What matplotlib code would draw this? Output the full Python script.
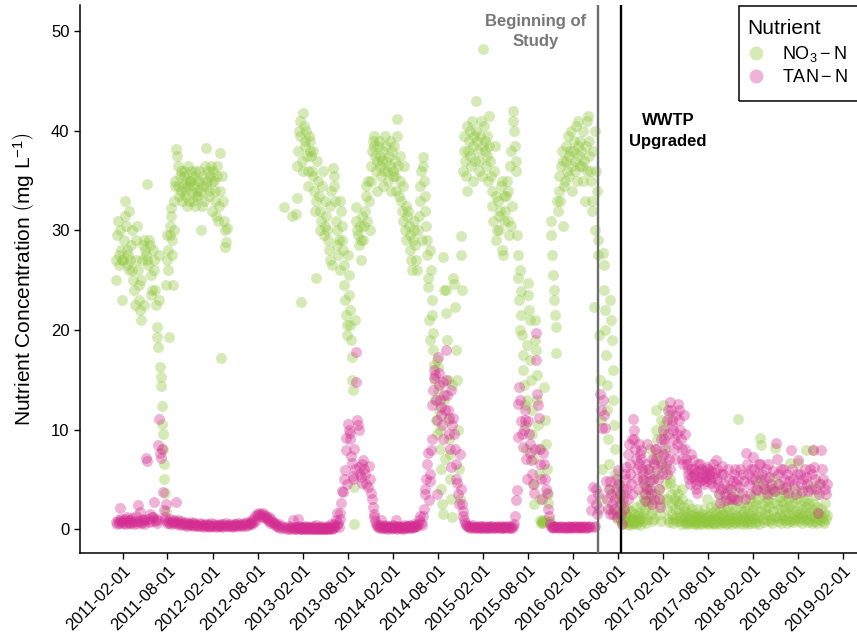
import calendar

import matplotlib
matplotlib.use("Agg")
import matplotlib.pyplot as plt
from matplotlib.lines import Line2D
from matplotlib.patches import Rectangle
import pandas as pd

plt.rcParams["font.family"] = ["Liberation Sans", "DejaVu Sans"]
plt.rcParams["mathtext.fontset"] = "custom"
plt.rcParams["mathtext.rm"] = "Liberation Sans"
plt.rcParams["mathtext.it"] = "Liberation Sans:italic"

# ---------------------------------------------------------------------------
# Monthly samples (mg N / L); each inner list holds one calendar month,
# samples are spread evenly through that month.
# ---------------------------------------------------------------------------
no3_2011 = [
    [25.0, 27.0, 29.5, 31.0, 27.5, 26.5, 30.0, 28.0, 23.0, 27.0],
    [27.0, 29.0, 31.5, 33.0, 30.5, 28.0, 26.5, 27.5, 32.0, 26.0],
    [27.0, 28.5, 30.0, 26.0, 25.0, 24.0, 22.5, 27.0, 29.0, 30.5],
    [26.0, 24.5, 23.0, 22.0, 21.0, 25.0, 27.0, 28.5, 29.0, 22.5],
    [28.0, 27.5, 34.7, 27.0, 26.5, 29.0, 28.5, 25.5, 23.5, 24.0],
    [28.0, 27.0, 26.0, 24.0, 22.5, 20.3, 19.3, 18.3, 23.0, 27.5],
    [16.3, 15.3, 14.4, 12.4, 10.6, 9.5, 8.0, 6.5, 5.0, 3.6, 1.8, 24.5, 27.0, 29.5],
    [26.0, 28.0, 19.3, 29.5, 30.5, 31.5, 32.3, 29.0, 27.5, 24.5, 30.0, 33.0, 34.5],
    [35.0, 38.2, 37.5, 36.5, 34.5, 33.5, 35.5, 34.0, 36.0, 33.0],
    [34.5, 35.5, 36.0, 33.5, 34.0, 35.0, 32.5, 34.5, 36.5, 33.0, 35.0],
    [35.0, 36.0, 34.0, 33.0, 35.5, 34.5, 36.0, 32.5, 33.5, 35.0, 34.0],
    [33.5, 35.0, 36.0, 34.0, 30.0, 32.5, 35.5, 34.5, 33.0, 36.5],
]
no3_2012 = [
    [34.5, 38.3, 35.0, 36.0, 33.5, 34.0, 35.5, 36.5, 32.0, 35.0],
    [36.0, 35.0, 34.0, 33.0, 31.5, 35.5, 36.5, 31.0, 32.5, 34.0],
    [37.8, 17.2, 35.5, 33.0, 31.0, 30.0, 28.3, 28.8, 30.2],
    [], [], [], [], [], [], [],
    [32.4],
    [31.5],
]
no3_2013 = [
    [31.7, 33.3, 36.5, 38.0, 40.0, 41.0, 39.5, 22.8, 37.0, 36.0],
    [41.8, 40.5, 39.0, 38.5, 40.0, 37.5, 36.0, 34.5, 39.5, 38.0],
    [39.0, 37.5, 36.0, 35.5, 38.0, 34.0, 32.0, 33.0, 25.2, 37.0],
    [35.0, 33.5, 32.0, 30.0, 31.0, 34.5, 36.0, 29.5, 30.5],
    [33.0, 31.5, 30.0, 29.0, 28.0, 27.0, 32.5, 34.0, 26.5],
    [36.3, 35.5, 34.5, 33.0, 31.0, 30.0, 28.5, 27.5, 29.0, 26.0],
    [33.0, 32.0, 30.5, 29.0, 28.0, 26.5, 24.5, 23.0, 21.5, 20.5, 19.5],
    [27.5, 25.5, 23.5, 22.0, 20.5, 19.0, 17.3, 15.0, 14.0, 4.2, 0.5, 21.0],
    [32.4, 31.0, 30.0, 29.5, 28.5, 30.5, 27.0, 29.0, 31.5],
    [29.0, 30.5, 32.0, 33.5, 34.5, 31.0, 35.0, 33.0, 30.0],
    [35.0, 36.5, 38.0, 39.0, 39.5, 38.5, 37.5, 36.0, 34.0, 37.0],
    [38.5, 39.0, 37.5, 36.5, 35.5, 37.0, 38.0, 34.5, 36.0, 39.5],
]
no3_2014 = [
    [37.0, 38.5, 36.0, 35.0, 37.5, 39.0, 36.5, 34.0, 38.0, 35.5],
    [36.0, 38.5, 37.0, 35.5, 34.0, 39.5, 41.2, 36.5, 33.5, 37.5],
    [35.0, 33.0, 32.0, 31.0, 34.5, 36.5, 30.0, 29.0, 32.5, 31.5],
    [32.0, 30.5, 29.5, 28.0, 27.0, 26.0, 29.0, 30.0, 31.0],
    [28.5, 27.0, 26.0, 30.0, 31.5, 33.0, 34.5, 36.0, 29.0],
    [37.4, 36.5, 35.0, 33.5, 32.0, 30.5, 29.0, 27.5, 25.2, 24.3, 21.0, 19.0],
    [28.0, 26.0, 23.0, 21.5, 19.7, 18.0, 16.5, 15.0, 13.0, 11.0, 9.5, 17.0],
    [16.3, 14.0, 12.0, 10.0, 8.0, 6.0, 4.0, 2.5, 1.5, 27.3, 24.0, 13.0, 7.0],
    [21.7, 24.0, 19.0, 15.0, 11.0, 9.0, 7.5, 5.0, 3.0, 1.2, 14.5],
    [25.2, 24.6, 22.3, 18.0, 15.0, 10.0, 6.0, 3.0],
    [29.4, 27.5, 24.0, 36.0, 38.0, 39.5, 37.0, 35.5, 40.5, 34.0],
    [38.0, 39.0, 40.0, 37.5, 36.5, 41.0, 38.5, 35.0, 39.5, 37.0],
]
no3_2015 = [
    [43.0, 40.0, 39.0, 38.0, 37.0, 36.0, 39.5, 41.0, 35.5, 38.5],
    [48.2, 40.5, 39.0, 38.0, 36.5, 37.5, 39.5, 35.0, 41.5, 38.5],
    [37.0, 35.5, 34.0, 32.5, 31.0, 36.0, 38.5, 33.5, 29.0, 30.0],
    [33.0, 31.5, 30.0, 32.0, 34.5, 35.0, 28.0, 27.5, 31.0, 33.5],
    [32.0, 33.5, 35.0, 34.0, 31.0, 29.5, 36.5, 38.0, 30.5, 32.5],
    [42.0, 41.0, 40.0, 38.5, 37.0, 36.0, 29.5, 27.5, 25.2, 23.0, 20.0],
    [26.0, 23.9, 21.5, 19.5, 17.5, 16.0, 14.5, 12.5, 10.5, 8.0, 13.0, 18.5],
    [24.7, 23.5, 22.0, 21.0, 17.0, 15.0, 12.0, 9.5, 7.0, 4.5, 2.5, 19.0],
    [21.0, 18.0, 15.5, 13.0, 10.5, 8.0, 5.5, 3.0, 0.9, 0.6, 0.8, 0.7],
    [0.6, 0.9, 14.3, 11.0, 8.5, 6.0, 3.5, 2.6, 0.7, 0.8],
    [31.0, 29.5, 27.5, 25.5, 24.0, 23.0, 21.5, 20.3, 17.7, 33.0],
    [32.0, 34.0, 35.5, 33.0, 36.5, 38.0, 37.0, 30.5, 34.5, 35.0],
]
no3_2016 = [
    [37.0, 38.5, 36.0, 39.5, 37.5, 35.5, 38.0, 40.0, 36.5, 34.0],
    [38.0, 39.0, 37.0, 36.0, 40.5, 35.0, 38.5, 41.0, 37.5, 36.5],
    [39.0, 38.0, 36.5, 35.0, 40.0, 37.0, 33.0, 38.5, 41.0, 36.0],
    [41.5, 39.0, 37.5, 36.0, 35.0, 33.0, 32.0, 38.0, 22.3, 30.0],
    [40.0, 36.0, 34.0, 29.0, 27.5, 19.5, 15.0, 11.0, 6.0, 3.0],
    [27.7, 26.5, 24.0, 22.0, 20.0, 17.5, 14.5, 12.0, 9.0, 6.5, 4.0, 2.0],
    [23.0, 21.0, 19.0, 16.0, 13.0, 10.5, 8.0, 5.5, 3.5, 1.5, 1.0],
    [4.5, 3.0, 2.0, 1.5, 1.0, 0.8, 0.5, 2.5, 3.5, 1.2, 0.6, 2.2],
    [1.5, 1.0, 0.8, 0.5, 2.0, 0.7, 1.2, 0.4, 0.9, 1.8, 0.6, 1.1],
    [1.0, 0.6, 1.5, 0.8, 2.2, 0.5, 1.3, 0.9, 0.7, 1.6, 1.0, 0.4],
    [1.2, 2.5, 3.5, 4.9, 0.8, 1.6, 3.0, 2.0, 0.6, 4.2, 1.0, 2.8],
    [2.5, 4.0, 6.0, 8.0, 3.0, 1.5, 0.8, 5.0, 2.0, 7.0, 1.0, 3.5],
]
no3_2017 = [
    [10.0, 12.0, 9.0, 7.5, 5.5, 4.0, 2.5, 1.5, 0.8, 11.0, 6.5, 3.0],
    [12.5, 10.5, 9.5, 8.0, 6.0, 4.5, 3.0, 2.0, 1.0, 0.7, 11.5, 5.0],
    [4.6, 3.5, 2.5, 1.5, 1.0, 0.6, 3.0, 2.0, 4.0, 1.2, 0.8, 2.8],
    [3.5, 2.5, 1.8, 1.2, 0.8, 0.5, 4.0, 3.0, 1.5, 0.9, 2.2, 0.6],
    [1.8, 1.2, 0.7, 0.5, 1.0, 2.5, 1.5, 0.6, 0.9, 1.4, 0.8, 2.0],
    [1.0, 0.6, 1.5, 0.8, 0.5, 1.2, 2.0, 0.7, 1.0, 0.5, 1.3, 0.9],
    [1.2, 0.6, 0.9, 1.5, 0.5, 2.0, 0.8, 1.1, 0.7, 1.4, 3.0, 0.6],
    [0.8, 1.3, 0.5, 1.0, 2.2, 0.7, 1.6, 0.9, 0.6, 1.2, 0.5, 1.8],
    [1.0, 2.5, 0.6, 1.5, 0.8, 3.5, 1.2, 0.5, 2.0, 0.9, 1.4, 0.7],
    [1.5, 0.7, 2.8, 1.0, 0.5, 1.8, 0.9, 2.2, 0.6, 1.3, 4.0, 1.1],
    [0.8, 1.6, 0.5, 2.5, 1.1, 0.7, 3.0, 1.4, 0.6, 2.0, 0.9, 1.2],
    [11.1, 3.6, 1.0, 0.6, 2.0, 1.4, 0.8, 2.6, 0.5, 1.2, 1.8, 0.9],
]
no3_2018 = [
    [1.2, 0.7, 2.2, 1.0, 0.5, 1.6, 3.0, 0.8, 1.4, 0.6, 2.5, 1.1],
    [2.0, 3.5, 1.0, 0.6, 2.5, 1.5, 4.5, 0.8, 1.2, 3.0, 0.5, 1.8],
    [9.1, 8.4, 5.0, 2.5, 1.0, 3.5, 0.7, 2.0, 1.5, 4.0, 0.9, 2.8],
    [1.5, 3.0, 2.2, 0.8, 4.2, 1.0, 2.6, 0.6, 3.5, 1.8, 5.2, 1.2],
    [8.1, 3.8, 2.5, 1.2, 4.5, 0.8, 2.0, 3.2, 1.5, 0.6, 2.8, 1.0],
    [2.5, 1.4, 3.5, 0.9, 2.0, 4.0, 1.0, 0.6, 3.0, 1.6, 2.3, 0.8],
    [6.6, 2.0, 1.0, 3.2, 0.7, 2.6, 1.5, 4.0, 0.9, 1.8, 3.0, 1.2],
    [6.6, 1.5, 0.8, 2.4, 1.1, 3.6, 0.6, 2.0, 1.3, 0.9, 2.8, 1.6],
    [7.9, 2.2, 1.0, 3.0, 0.7, 1.6, 2.6, 0.9, 4.2, 1.3, 0.6, 2.0],
    [7.9, 2.5, 1.2, 0.8, 3.4, 1.7, 0.6, 2.2, 1.0, 4.6, 1.5, 0.9],
    [2.0, 1.2, 0.8, 1.6, 0.6, 2.6, 1.0, 1.4],
    [],
]

tan_2011 = [
    [0.7, 0.5, 0.9, 0.6, 2.1, 0.8, 1.0, 0.6],
    [0.8, 0.6, 1.0, 0.5, 1.2, 0.7, 0.9, 0.6],
    [0.9, 0.6, 1.1, 0.7, 0.5, 0.8, 1.3, 0.6],
    [2.4, 0.8, 1.7, 0.6, 1.0, 0.7, 0.9, 0.5],
    [0.9, 7.1, 6.8, 1.0, 0.7, 1.5, 0.8, 1.2],
    [1.2, 2.7, 0.8, 1.0, 0.6, 0.9, 8.4, 11.1],
    [7.6, 7.1, 8.0, 3.7, 1.9, 0.9, 1.2, 2.5, 0.6],
    [0.8, 0.6, 1.0, 0.5, 0.7, 0.9, 0.6, 0.8],
    [2.7, 0.7, 0.5, 0.9, 0.6, 0.4, 0.8, 0.5],
    [0.6, 0.4, 0.7, 0.5, 0.3, 0.6, 0.4, 0.5],
    [0.5, 0.7, 0.4, 0.3, 0.6, 0.5, 0.4, 0.3],
    [0.4, 0.3, 0.6, 0.5, 0.3, 0.4, 0.2, 0.5],
]
tan_2012 = [
    [0.4, 0.3, 0.5, 0.2, 0.4, 0.3, 0.6, 0.3],
    [0.3, 0.5, 0.4, 0.2, 0.3, 0.4, 0.3, 0.5],
    [0.4, 0.3, 0.2, 0.5, 0.3, 0.4, 0.6, 0.3],
    [0.3, 0.4, 0.5, 0.3, 0.2, 0.4, 0.3, 0.5],
    [0.5, 0.3, 0.4, 0.6, 0.3, 0.4, 0.5, 0.3],
    [0.4, 0.6, 0.5, 0.3, 0.7, 0.4, 0.5, 0.6],
    [0.6, 0.8, 0.5, 1.0, 0.7, 1.3, 0.9, 1.5],
    [1.4, 1.6, 1.3, 1.5, 1.2, 1.6, 1.4, 1.1],
    [1.3, 1.1, 0.9, 1.2, 0.8, 0.6, 1.0, 0.7],
    [0.7, 0.5, 0.6, 0.3, 0.4, 0.2, 0.5, 0.1],
    [0.3, 0.1, 0.2, 0.0],
    [0.1, 0.3, 0.0, 0.2, 0.1, 0.9, 0.0, 0.2],
]
tan_2013 = [
    [0.1, 0.0, 0.2, 1.0, 0.1, 0.3, 0.0, 0.2, 0.1, 0.0, 0.2, 0.1],
    [0.0, 0.2, 0.1, 0.3, 0.0, 0.1, 0.2, 0.0, 0.1, 0.2, 0.0, 0.1],
    [0.2, 0.1, 0.0, 0.1, 0.3, 0.0, 0.2, 0.1, 0.0, 0.4, 0.1, 0.0],
    [0.1, 0.0, 0.2, 0.1, 0.0, 0.3, 0.1, 0.0, 0.2, 0.1, 0.0, 0.1],
    [0.0, 0.1, 0.2, 0.0, 0.1, 0.3, 0.0, 0.2, 0.1, 0.5, 0.0, 0.1],
    [0.1, 0.3, 0.5, 0.2, 0.9, 0.4, 1.6, 0.6, 0.2, 1.0],
    [1.6, 2.6, 3.8, 3.7, 5.0, 5.9, 7.9, 9.1, 4.5],
    [10.6, 10.0, 9.6, 9.0, 7.3, 6.6, 5.3, 5.0, 8.0, 6.0],
    [17.8, 14.8, 11.0, 10.5, 10.0, 6.2, 5.5, 5.2, 4.6, 6.5],
    [6.9, 6.0, 5.5, 4.5, 4.2, 6.3, 5.0],
    [3.6, 3.0, 2.2, 1.5, 1.2, 0.8, 0.5, 0.3],
    [0.3, 0.1, 0.4, 0.2, 0.9, 0.1, 0.3, 0.2, 0.1, 0.4],
]
tan_2014 = [
    [0.2, 0.1, 0.3, 0.0, 0.2, 0.1, 0.3, 0.2, 0.1, 0.4],
    [0.1, 0.3, 0.2, 0.1, 0.9, 0.2, 0.0, 0.3, 0.1, 0.2],
    [0.2, 0.1, 0.3, 0.2, 0.0, 0.1, 0.4, 0.2, 0.1, 0.3],
    [0.3, 0.2, 0.1, 0.4, 0.2, 0.3, 0.1, 0.2, 0.5, 0.3],
    [0.2, 0.4, 0.3, 0.5, 0.9, 1.3, 0.6, 0.4],
    [1.3, 2.0, 3.5, 4.0, 5.0, 6.5, 7.6, 2.9, 4.8],
    [5.5, 7.9, 9.0, 12.5, 14.0, 15.2, 16.0, 15.5, 13.0, 3.5, 11.0],
    [17.3, 15.7, 14.5, 13.0, 12.3, 11.5, 10.5, 9.0, 14.8, 13.5, 12.0],
    [18.0, 15.0, 13.5, 12.0, 11.2, 9.5, 8.0, 6.2, 14.0, 10.5],
    [11.2, 9.5, 8.0, 6.5, 5.0, 4.6, 3.5, 2.5, 7.5],
    [4.0, 2.5, 1.8, 1.3, 0.9, 0.6, 0.4, 0.3],
    [0.3, 0.2, 0.1, 0.3, 0.2, 0.4, 0.1, 0.2],
]
tan_2015 = [
    [0.2, 0.1, 0.3, 0.2, 0.1, 0.2, 0.3, 0.1],
    [0.2, 0.3, 0.1, 0.2, 0.1, 0.2, 0.3, 0.2],
    [0.1, 0.2, 0.3, 0.1, 0.2, 0.1, 0.2, 0.3],
    [0.2, 0.1, 0.2, 0.3, 0.1, 0.2, 0.1, 0.2],
    [0.3, 0.2, 0.1, 0.2, 0.3, 0.1, 0.2, 0.1],
    [0.3, 0.5, 1.3, 2.9, 3.9, 9.2, 12.6, 14.3],
    [13.0, 10.9, 9.5, 8.2, 10.0, 12.0, 11.0, 7.0, 5.0],
    [10.9, 9.5, 8.5, 7.6, 6.9, 5.5, 4.5, 3.6, 8.0],
    [19.7, 17.0, 13.6, 12.5, 11.2, 8.0, 6.5, 5.0, 3.0],
    [7.6, 6.5, 5.0, 4.0, 3.6, 2.0, 1.3, 0.5],
    [0.2, 0.3, 0.2, 0.1, 0.2, 0.3, 0.2, 0.2],
    [0.2, 0.1, 0.2, 0.3, 0.2, 0.2, 0.1, 0.2],
]
tan_2016 = [
    [0.2, 0.1, 0.2, 0.3, 0.2, 0.2, 0.1, 0.2],
    [0.2, 0.3, 0.2, 0.1, 0.2, 0.2, 0.3, 0.2],
    [0.2, 0.1, 0.2, 0.2, 0.3, 0.2, 0.1, 0.2],
    [0.2, 0.3, 0.2, 1.9, 3.0, 4.2, 0.2, 0.3],
    [2.5, 4.0, 1.5, 3.5, 2.0, 13.6, 12.0, 10.2],
    [13.0, 11.5, 10.2, 4.8, 3.0, 2.0, 4.0, 1.5],
    [4.8, 3.5, 2.5, 1.5, 2.0, 3.0, 4.0, 5.0, 1.2],
    [5.9, 4.5, 3.5, 2.5, 1.5, 0.5, 3.0, 4.0, 2.0, 5.5],
    [6.2, 5.0, 4.0, 3.0, 7.5, 8.5, 6.5, 5.5, 4.5, 3.5, 9.0],
    [11.1, 10.0, 9.0, 8.0, 7.0, 6.0, 5.0, 4.0, 8.5, 6.5, 7.5],
    [7.9, 7.0, 6.0, 5.5, 5.0, 4.5, 3.5, 2.8, 6.5, 4.0, 8.5],
    [6.0, 5.5, 4.8, 4.0, 3.5, 7.0, 2.5, 5.0, 6.5, 3.0, 8.0],
]
tan_2017 = [
    [8.0, 7.0, 6.0, 5.0, 4.0, 3.0, 2.2, 9.0, 6.5, 5.5, 7.5],
    [10.0, 9.0, 8.5, 7.5, 6.5, 5.5, 11.0, 12.0, 9.5, 7.0, 6.0],
    [12.8, 12.0, 11.0, 10.5, 10.0, 9.0, 8.0, 7.0, 11.5, 9.5, 8.5],
    [12.6, 12.0, 11.0, 10.0, 9.0, 8.0, 7.0, 6.5, 11.5, 9.5],
    [8.0, 7.0, 6.5, 6.0, 5.5, 5.0, 4.5, 7.5, 6.0, 5.2],
    [6.9, 6.0, 5.5, 5.0, 4.5, 4.0, 3.6, 6.5, 5.8, 5.2, 4.8],
    [6.5, 6.0, 5.5, 5.0, 4.5, 5.8, 5.2, 4.8, 6.2],
    [6.0, 5.5, 5.0, 4.6, 5.8, 5.2, 6.5, 4.2, 5.6],
    [6.9, 6.0, 5.0, 4.5, 3.5, 2.6, 5.5, 4.0, 6.3],
    [5.5, 4.5, 3.5, 2.9, 4.0, 6.0, 5.0, 3.0],
    [4.0, 3.2, 4.8, 5.5, 3.0, 6.0, 4.5, 2.9],
    [5.0, 4.2, 6.0, 3.6, 5.5, 4.8, 3.0],
]
tan_2018 = [
    [7.6, 6.5, 5.5, 4.5, 3.5, 6.0, 5.0],
    [7.2, 6.0, 5.0, 4.0, 3.9, 5.5, 6.5],
    [6.5, 5.5, 4.5, 4.0, 5.0, 6.0, 3.5],
    [6.5, 5.2, 4.5, 4.0, 5.8, 3.8],
    [8.6, 7.0, 5.5, 4.5, 6.0, 4.0],
    [6.0, 5.0, 4.2, 5.5, 3.6, 4.8],
    [7.9, 6.0, 5.0, 4.5, 3.5, 5.5],
    [6.9, 5.5, 4.5, 3.8, 5.0, 6.0],
    [5.2, 4.5, 3.8, 6.0, 4.0, 5.5],
    [7.9, 6.2, 5.0, 4.0, 1.6, 3.5, 4.5],
    [7.9, 6.0, 5.0, 4.0, 3.5, 4.5],
    [],
]

years = [2011, 2012, 2013, 2014, 2015, 2016, 2017, 2018]
no3_by_year = [no3_2011, no3_2012, no3_2013, no3_2014,
               no3_2015, no3_2016, no3_2017, no3_2018]
tan_by_year = [tan_2011, tan_2012, tan_2013, tan_2014,
               tan_2015, tan_2016, tan_2017, tan_2018]

study_start = pd.Timestamp("2016-05-14")
wwtp_upgrade = pd.Timestamp("2016-08-14")
tick_dates = pd.date_range("2011-02-01", "2019-02-01", freq="6MS")

colors = {"no3": "#8fc63a", "tan": "#d42d92"}


def expand(year_list, monthly_lists):
    """Turn per-month value lists into (date, value) samples."""
    dates, vals = [], []
    for year, months in zip(year_list, monthly_lists):
        for m, month_vals in enumerate(months, start=1):
            n = len(month_vals)
            ndays = calendar.monthrange(year, m)[1]
            for i, v in enumerate(month_vals):
                dates.append(pd.Timestamp(year, m, 1)
                             + pd.Timedelta(days=(i + 0.5) * ndays / n))
                vals.append(v)
    return dates, vals


no3_dates, no3_vals = expand(years, no3_by_year)
tan_dates, tan_vals = expand(years, tan_by_year)

fig = plt.figure(figsize=(8.57, 6.4), dpi=100)
ax = fig.add_axes([80 / 857, 87 / 640, 777 / 857, 548 / 640])

marker_kw = dict(s=62, alpha=0.36, linewidths=0)
ax.scatter(no3_dates, no3_vals, color=colors["no3"], **marker_kw)
ax.scatter(tan_dates, tan_vals, color=colors["tan"], **marker_kw)

ax.axvline(study_start, color="#6e6e6e", lw=1.7, zorder=3)
ax.axvline(wwtp_upgrade, color="black", lw=1.7, zorder=3)

ax.text(pd.Timestamp("2015-09-01"), 50, "Beginning of\nStudy",
        ha="center", va="center", fontsize=12, fontweight="bold",
        color="#777777", linespacing=1.45)
ax.text(pd.Timestamp("2017-02-21"), 40, "WWTP\nUpgraded",
        ha="center", va="center", fontsize=12, fontweight="bold",
        color="black", linespacing=1.45)

ax.set_xlim(pd.Timestamp("2010-08-11"), pd.Timestamp("2019-03-30"))
ax.set_ylim(-2.41, 52.66)
ax.set_yticks([0, 10, 20, 30, 40, 50])
ax.set_xticks(tick_dates)
ax.set_xticklabels([d.strftime("%Y-%m-%d") for d in tick_dates],
                   rotation=45, ha="right", rotation_mode="anchor")

for side in ("top", "right"):
    ax.spines[side].set_visible(False)
for side in ("left", "bottom"):
    ax.spines[side].set_linewidth(1.1)
    ax.spines[side].set_color("black")
ax.tick_params(axis="both", direction="out", length=4, width=1.0,
               colors="black", labelsize=12)
ax.tick_params(axis="x", pad=3)

ax.set_ylabel(r"Nutrient Concentration $\left(\mathrm{mg\ L^{-1}}\right)$",
              fontsize=15, labelpad=10)

# Legend: content placed inside a frame that runs off the right edge.
handles = [
    Line2D([], [], ls="none", marker="o", markersize=10, markeredgewidth=0,
           color=colors["no3"], alpha=0.36),
    Line2D([], [], ls="none", marker="o", markersize=10, markeredgewidth=0,
           color=colors["tan"], alpha=0.36),
]
fig.legend(handles, [r"$\mathrm{NO_3-N}$", r"$\mathrm{TAN-N}$"],
           title="Nutrient", loc="upper left",
           bbox_to_anchor=(742 / 857, 1 - 14 / 640),
           fontsize=13, title_fontsize=15, alignment="left",
           frameon=False, borderpad=0.3, labelspacing=0.3,
           handlelength=1.0, handletextpad=0.9, borderaxespad=0)
fig.add_artist(Rectangle((739 / 857, 1 - 101 / 640), 140 / 857, 95 / 640,
                         transform=fig.transFigure, fill=False,
                         edgecolor="black", linewidth=1.1, clip_on=False))

fig.savefig("out.png", dpi=100)
